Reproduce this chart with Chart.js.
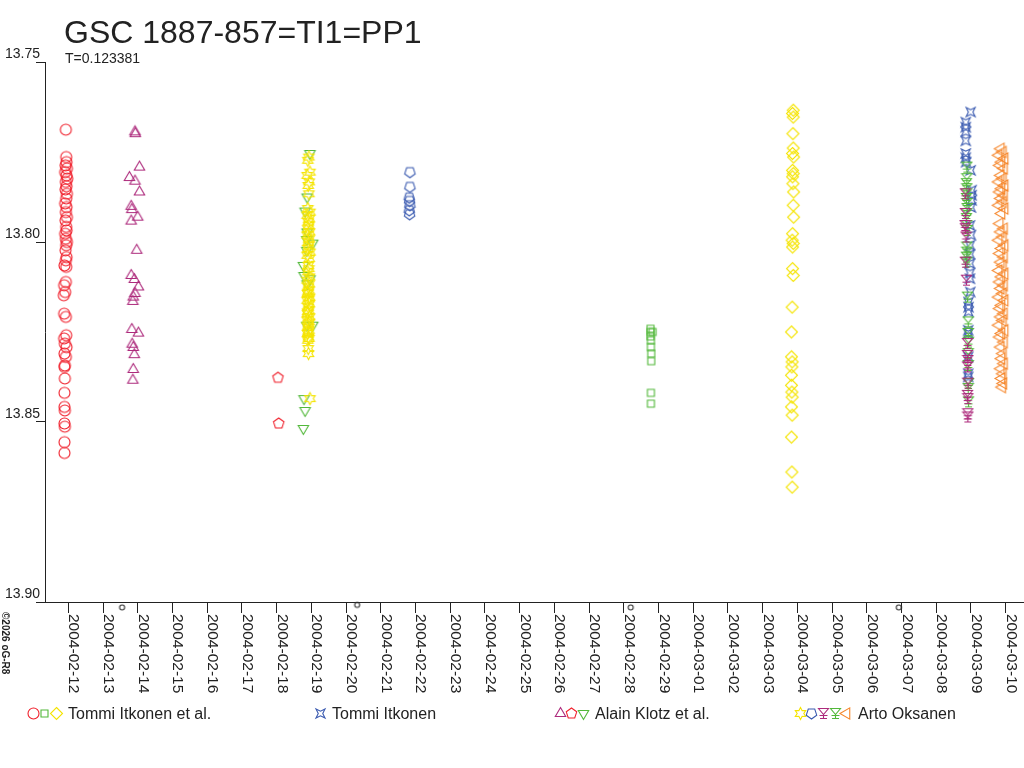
<!DOCTYPE html>
<html>
<head>
<meta charset="utf-8">
<script src="https://cdn.jsdelivr.net/npm/chart.js@4.4.1/dist/chart.umd.min.js"></script>
<style>
body { margin: 0; background: #fff; }
#wrap { width: 1024px; height: 768px; }
</style>
</head>
<body>
<div id="wrap"><canvas id="lc" width="1024" height="768"></canvas></div>
<script>
// x = days after 2004-02-12 (fractional), y = magnitude
const chartTitle = 'GSC 1887-857=TI1=PP1';
const subTitle = 'T=0.123381';
const stamp = '\u00a92026 oG-R8';

const dayLabels = ['2004-02-12', '2004-02-13', '2004-02-14', '2004-02-15', '2004-02-16', '2004-02-17',
  '2004-02-18', '2004-02-19', '2004-02-20', '2004-02-21', '2004-02-22', '2004-02-23', '2004-02-24',
  '2004-02-25', '2004-02-26', '2004-02-27', '2004-02-28', '2004-02-29', '2004-03-01', '2004-03-02',
  '2004-03-03', '2004-03-04', '2004-03-05', '2004-03-06', '2004-03-07', '2004-03-08', '2004-03-09',
  '2004-03-10'];
const magTicks = [13.75, 13.80, 13.85, 13.90];

// Tommi Itkonen et al.
const itkCircle = [[-0.07,13.7688],[-0.06,13.7764],[-0.05,13.7778],[-0.08,13.7787],[-0.04,13.7796],[-0.09,13.7806],
  [-0.05,13.7815],[-0.03,13.7824],[-0.07,13.7833],[-0.05,13.7845],[-0.08,13.7854],[-0.04,13.7866],[-0.06,13.7879],
  [-0.09,13.7893],[-0.05,13.7903],[-0.07,13.7917],[-0.04,13.7931],[-0.08,13.7940],[-0.06,13.7958],[-0.05,13.7968],
  [-0.09,13.7977],[-0.07,13.7991],[-0.04,13.8000],[-0.06,13.8009],[-0.08,13.8023],[-0.05,13.8042],[-0.07,13.8051],
  [-0.11,13.8065],[-0.06,13.8069],[-0.07,13.8111],[-0.12,13.8120],[-0.09,13.8139],[-0.13,13.8148],[-0.12,13.8199],
  [-0.07,13.8208],[-0.06,13.8259],[-0.12,13.8268],[-0.10,13.8282],[-0.05,13.8292],[-0.11,13.8310],[-0.07,13.8319],
  [-0.10,13.8343],[-0.11,13.8347],[-0.10,13.8379],[-0.11,13.8419],[-0.11,13.8458],[-0.10,13.8468],[-0.11,13.8504],
  [-0.10,13.8513],[-0.11,13.8556],[-0.11,13.8586]];
const itkSquare = [[16.77,13.8241],[16.77,13.8250],[16.83,13.8250],[16.77,13.8262],[16.78,13.8273],[16.78,13.8292],
  [16.79,13.8310],[16.79,13.8331],[16.78,13.8419],[16.78,13.8449]];
const itkDiamond = [[20.88,13.7634],[20.86,13.7643],[20.88,13.7653],[20.87,13.7699],[20.88,13.7739],[20.86,13.7754],
  [20.89,13.7764],[20.86,13.7801],[20.88,13.7810],[20.86,13.7819],[20.87,13.7838],[20.89,13.7861],[20.88,13.7898],
  [20.89,13.7931],[20.86,13.7977],[20.85,13.7995],[20.88,13.8004],[20.86,13.8014],[20.86,13.8074],[20.88,13.8093],
  [20.85,13.8181],[20.83,13.8250],[20.83,13.8319],[20.85,13.8333],[20.84,13.8347],[20.83,13.8370],[20.83,13.8398],
  [20.84,13.8417],[20.85,13.8431],[20.83,13.8458],[20.85,13.8481],[20.83,13.8542],[20.84,13.8639],[20.85,13.8681]];

// Tommi Itkonen
const itkSolo = [[25.99,13.7639],[25.85,13.7667],[25.85,13.7681],[25.85,13.7694],[25.85,13.7719],[25.85,13.7754],
  [25.85,13.7766],[25.86,13.7778],[25.99,13.7801],[26.02,13.7856],[26.02,13.7870],[26.02,13.7884],[26.00,13.7904],
  [25.97,13.7954],[26.00,13.7981],[25.97,13.8009],[25.97,13.8034],[25.97,13.8060],[25.97,13.8086],[25.97,13.8102],
  [25.98,13.8139],[25.93,13.8167],[25.93,13.8181],[25.93,13.8194],[25.92,13.8245],[25.92,13.8254],[25.92,13.8319],
  [25.92,13.8366],[25.92,13.8375]];

// Alain Klotz et al.
const klotzTri = [[1.92,13.7694],[1.93,13.7699],[2.05,13.7792],[1.76,13.7821],[1.92,13.7831],[2.05,13.7861],
  [1.81,13.7901],[1.83,13.7910],[2.00,13.7931],[1.81,13.7942],[1.97,13.8023],[1.81,13.8093],[1.90,13.8104],
  [2.02,13.8125],[1.92,13.8143],[1.87,13.8153],[1.86,13.8165],[1.83,13.8243],[2.02,13.8253],[1.84,13.8284],
  [1.87,13.8293],[1.90,13.8313],[1.87,13.8354],[1.86,13.8384]];
const klotzPent = [[6.04,13.8377],[6.06,13.8504]];
const klotzTriDown = [[6.96,13.7754],[6.88,13.7875],[6.82,13.7914],[6.88,13.7972],[6.87,13.7993],[7.04,13.8003],
  [6.87,13.8023],[6.77,13.8065],[6.79,13.8093],[6.96,13.8102],[6.88,13.8116],[6.87,13.8231],[7.04,13.8231],
  [6.79,13.8435],[6.82,13.8468],[6.77,13.8518]];

// Arto Oksanen
const oksStar = [[6.93,13.7764],[6.90,13.7773],[6.96,13.7806],[6.88,13.7815],[6.94,13.7833],[6.91,13.7843],
  [6.93,13.7866],[6.90,13.7907],[6.96,13.7917],[6.88,13.7926],[6.94,13.7935],[6.91,13.7944],[6.93,13.7954],
  [6.90,13.7963],[6.95,13.7972],[6.88,13.7981],[6.94,13.7991],[6.91,13.8000],[6.93,13.8009],[6.90,13.8018],
  [6.96,13.8028],[6.88,13.8037],[6.94,13.8046],[6.91,13.8065],[6.93,13.8074],[6.90,13.8083],[6.95,13.8097],
  [6.88,13.8106],[6.94,13.8116],[6.91,13.8125],[6.93,13.8134],[6.89,13.8143],[6.95,13.8153],[6.88,13.8162],
  [6.94,13.8171],[6.91,13.8181],[6.93,13.8190],[6.89,13.8199],[6.95,13.8208],[6.88,13.8217],[6.92,13.8227],
  [6.90,13.8236],[6.93,13.8245],[6.89,13.8254],[6.92,13.8264],[6.90,13.8273],[6.91,13.8296],[6.92,13.8310],
  [6.96,13.8435],[6.90,13.8139],[6.93,13.8158],[6.89,13.8194],[6.94,13.8222],[6.91,13.8250],[6.93,13.8268]];
const oksPent = [[9.84,13.7806],[9.84,13.7847],[9.82,13.7877],[9.83,13.7886],[9.84,13.7898],[9.82,13.7912],[9.83,13.7923]];
const oksPurple = [[25.84,13.7866],[25.84,13.7921],[25.83,13.7954],[25.84,13.7963],[25.86,13.7986],[25.84,13.8056],
  [25.87,13.8106],[25.90,13.8282],[25.90,13.8315],[25.91,13.8329],[25.90,13.8347],[25.91,13.8392],[25.90,13.8426],
  [25.91,13.8435],[25.91,13.8477],[25.91,13.8486]];
const oksGreen = [[25.88,13.7792],[25.88,13.7824],[25.87,13.7838],[25.88,13.7852],[25.88,13.7866],[25.87,13.7879],
  [25.88,13.7893],[25.89,13.7907],[25.88,13.7921],[25.87,13.7935],[25.88,13.7954],[25.89,13.7968],[25.88,13.8014],
  [25.88,13.8028],[25.87,13.8042],[25.88,13.8056],[25.90,13.8153],[25.92,13.8222],[25.92,13.8254],[25.93,13.8278],
  [25.92,13.8310],[25.92,13.8343],[25.93,13.8393],[25.92,13.8407],[25.93,13.8444]];
const oksOrange = [[26.86,13.7741],[26.92,13.7750],[26.80,13.7759],[26.97,13.7768],[26.88,13.7778],[26.83,13.7787],
  [26.95,13.7796],[26.86,13.7815],[26.92,13.7824],[26.80,13.7833],[26.97,13.7843],[26.88,13.7852],[26.83,13.7861],
  [26.95,13.7870],[26.86,13.7879],[26.92,13.7889],[26.80,13.7898],[26.97,13.7907],[26.88,13.7921],[26.83,13.7949],
  [26.95,13.7963],[26.86,13.7972],[26.92,13.7986],[26.80,13.7995],[26.97,13.8009],[26.88,13.8018],[26.83,13.8032],
  [26.95,13.8042],[26.86,13.8056],[26.92,13.8065],[26.80,13.8079],[26.97,13.8088],[26.88,13.8097],[26.83,13.8111],
  [26.95,13.8120],[26.86,13.8129],[26.92,13.8143],[26.80,13.8153],[26.97,13.8162],[26.88,13.8176],[26.83,13.8185],
  [26.95,13.8199],[26.86,13.8208],[26.92,13.8218],[26.80,13.8231],[26.97,13.8245],[26.88,13.8254],[26.83,13.8264],
  [26.95,13.8278],[26.86,13.8292],[26.92,13.8310],[26.88,13.8324],[26.95,13.8338],[26.86,13.8352],[26.92,13.8366],
  [26.88,13.8379],[26.93,13.8393],[26.90,13.8403]];

// tiny marks just under the axis
const faintMarks = [[1.55,13.9015],[8.32,13.9008],[16.20,13.9015],[23.92,13.9015]];

const FONT = '"Liberation Sans", Arial, sans-serif';
Chart.defaults.font.family = FONT;

function poly(g, n, r, startDeg) {
  for (let i = 0; i < n; i++) {
    const a = (startDeg + i * 360 / n) * Math.PI / 180;
    const px = Math.cos(a) * r, py = Math.sin(a) * r;
    if (i === 0) g.moveTo(px, py); else g.lineTo(px, py);
  }
  g.closePath();
}

function mark(kind, color, r) {
  const s = Math.ceil(r * 2 + 3) | 1;
  const c = document.createElement('canvas');
  c.width = c.height = s;
  const g = c.getContext('2d');
  g.translate(s / 2, s / 2);
  g.strokeStyle = color;
  g.lineWidth = 1.1;
  g.beginPath();
  if (kind === 'circle') g.arc(0, 0, r, 0, Math.PI * 2);
  else if (kind === 'square') g.rect(-r, -r, 2 * r, 2 * r);
  else if (kind === 'diamond') poly(g, 4, r, -90);
  else if (kind === 'triUp') poly(g, 3, r, -90);
  else if (kind === 'triDown') poly(g, 3, r, 90);
  else if (kind === 'triLeft') poly(g, 3, r, 180);
  else if (kind === 'pent') poly(g, 5, r, -90);
  else if (kind === 'pentDown') poly(g, 5, r, 90);
  else if (kind === 'star6') {
    for (let i = 0; i < 12; i++) {
      const a = (-90 + i * 30) * Math.PI / 180, rr = i % 2 ? r * 0.55 : r;
      if (i === 0) g.moveTo(Math.cos(a) * rr, Math.sin(a) * rr); else g.lineTo(Math.cos(a) * rr, Math.sin(a) * rr);
    }
    g.closePath();
  } else if (kind === 'quad') {
    const k = r * 0.5;
    g.moveTo(-r, -r); g.lineTo(0, -k); g.lineTo(r, -r); g.lineTo(k, 0);
    g.lineTo(r, r); g.lineTo(0, k); g.lineTo(-r, r); g.lineTo(-k, 0); g.closePath();
  } else if (kind === 'tree') {
    g.moveTo(-r, -r); g.lineTo(r, -r); g.lineTo(0, 1); g.closePath();
    g.moveTo(0, 1); g.lineTo(0, r);
    g.moveTo(-r * 0.7, r); g.lineTo(r * 0.7, r);
    g.moveTo(-r * 0.8, r * 0.4); g.lineTo(r * 0.8, r * 0.4);
  }
  g.stroke();
  return c;
}

const RED = '#f0202c', GREEN = '#52b83a', YELLOW = '#f5e400', PURPLE = '#ad2a7c', BLUE = '#3a5ab0', ORANGE = '#f6862a';
const M = {
  circle: mark('circle', RED, 5.5),
  square: mark('square', GREEN, 3.5),
  diamond: mark('diamond', YELLOW, 6),
  quad: mark('quad', BLUE, 4.5),
  tri: mark('triUp', PURPLE, 6),
  pent: mark('pent', RED, 5.5),
  triDown: mark('triDown', GREEN, 6),
  star: mark('star6', YELLOW, 6),
  bluePent: mark('pentDown', BLUE, 5.5),
  purpleTree: mark('tree', PURPLE, 5),
  greenTree: mark('tree', GREEN, 5),
  triLeft: mark('triLeft', ORANGE, 6.5),
  dot: mark('circle', '#333', 2.5)
};

function ds(label, pts, img, extra) {
  return Object.assign({
    label: label,
    data: pts.map(p => ({ x: p[0], y: p[1] })),
    pointStyle: img,
    pointRadius: 6,
    showLine: false
  }, extra || {});
}

// first dataset is painted last (on top)
const datasets = [
  ds('Arto Oksanen', oksStar, M.star),
  ds('Arto Oksanen', oksOrange, M.triLeft),
  ds('Arto Oksanen', oksPurple, M.purpleTree),
  ds('Arto Oksanen', oksGreen, M.greenTree),
  ds('Arto Oksanen', oksPent, M.bluePent),
  ds('Alain Klotz et al.', klotzTri, M.tri),
  ds('Alain Klotz et al.', klotzPent, M.pent),
  ds('Alain Klotz et al.', klotzTriDown, M.triDown),
  ds('Tommi Itkonen', itkSolo, M.quad),
  ds('Tommi Itkonen et al.', itkCircle, M.circle),
  ds('Tommi Itkonen et al.', itkSquare, M.square),
  ds('Tommi Itkonen et al.', itkDiamond, M.diamond),
  ds('', faintMarks, M.dot, { clip: false, pointRadius: 14 })
];

const legendItems = [
  { marks: [M.circle, M.square, M.diamond], x: 33, tx: 68, text: 'Tommi Itkonen et al.' },
  { marks: [M.quad], x: 320, tx: 332, text: 'Tommi Itkonen' },
  { marks: [M.tri, M.pent, M.triDown], x: 560, tx: 595, text: 'Alain Klotz et al.' },
  { marks: [M.star, M.bluePent, M.purpleTree, M.greenTree, M.triLeft], x: 800, tx: 858, text: 'Arto Oksanen' }
];

const decor = {
  id: 'decor',
  afterDraw(chart) {
    const ctx = chart.ctx, xs = chart.scales.x;
    ctx.save();
    ctx.fillStyle = '#222';
    ctx.textAlign = 'left';
    ctx.textBaseline = 'alphabetic';
    ctx.font = '32px ' + FONT;
    ctx.fillText(chartTitle, 64, 43);
    ctx.font = '14px ' + FONT;
    ctx.fillText(subTitle, 65, 63);

    // date labels, reading downwards
    ctx.font = '15.5px ' + FONT;
    dayLabels.forEach((lab, i) => {
      const px = xs.getPixelForValue(i);
      ctx.save();
      ctx.translate(px + 1, 614);
      ctx.rotate(Math.PI / 2);
      ctx.fillText(lab, 0, 0);
      ctx.restore();
    });

    // legend
    ctx.font = '16px ' + FONT;
    legendItems.forEach(it => {
      it.marks.forEach((m, k) => {
        ctx.drawImage(m, Math.round(it.x + k * 11.7 - m.width / 2), Math.round(713 - m.height / 2));
      });
      ctx.fillText(it.text, it.tx, 719);
    });

    ctx.font = 'bold 10px ' + FONT;
    ctx.translate(2, 612);
    ctx.rotate(Math.PI / 2);
    ctx.fillText(stamp, 0, 0);
    ctx.restore();
  }
};

new Chart(document.getElementById('lc'), {
  type: 'scatter',
  data: { datasets: datasets },
  plugins: [decor],
  options: {
    responsive: false,
    animation: false,
    events: [],
    layout: { autoPadding: false, padding: { top: 62, left: 0, right: 0, bottom: 0 } },
    plugins: { legend: { display: false }, title: { display: false }, tooltip: { enabled: false } },
    scales: {
      x: {
        type: 'linear',
        min: -0.671,
        max: 27.527,
        afterBuildTicks: s => { s.ticks = dayLabels.map((_, i) => ({ value: i })); },
        afterFit: s => { s.height = 166; },
        ticks: { display: false },
        grid: { drawOnChartArea: false, drawTicks: true, tickLength: 11, color: '#222' },
        border: { display: true, color: '#222' }
      },
      y: {
        reverse: true,
        min: 13.75,
        max: 13.90,
        afterBuildTicks: s => { s.ticks = magTicks.map(v => ({ value: v })); },
        afterFit: s => { s.width = 45; },
        ticks: {
          color: '#222',
          font: { size: 14 },
          padding: -4,
          labelOffset: -8,
          callback: v => Number(v).toFixed(2)
        },
        grid: { drawOnChartArea: false, drawTicks: true, tickLength: 9, color: '#222' },
        border: { display: true, color: '#222' }
      }
    }
  }
});
</script>
</body>
</html>
